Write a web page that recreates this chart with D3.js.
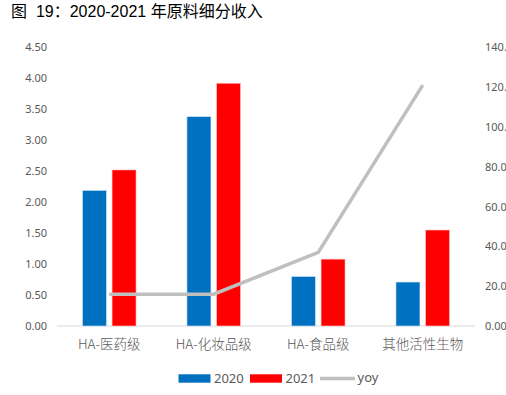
<!DOCTYPE html>
<html>
<head>
<meta charset="utf-8">
<script src="https://d3js.org/d3.v7.min.js"></script>
<style>
body { margin: 0; background: #fff; }
.tick text { fill: #595959; font-family: "Noto Sans", "Noto Sans CJK SC", sans-serif; font-size: 11px; }
.title { font-family: "Liberation Sans", "Noto Sans CJK SC", sans-serif; font-size: 16px; fill: #000; }
.xlab { font-family: "Noto Sans CJK SC", sans-serif; font-size: 13.5px; font-weight: 300; fill: #595959; }
.leg { font-family: "Noto Sans", sans-serif; font-size: 13px; fill: #595959; }
</style>
</head>
<body>
<svg id="chart" width="506" height="395"></svg>
<script>
// data
var categories = ["HA-医药级", "HA-化妆品级", "HA-食品级", "其他活性生物"];
var rev2020 = [2.19, 3.38, 0.80, 0.71];
var rev2021 = [2.52, 3.92, 1.08, 1.55];
var yoy = [16, 16, 37, 121];
var leftTicks = [0, 0.5, 1, 1.5, 2, 2.5, 3, 3.5, 4, 4.5];
var rightTicks = [0, 20, 40, 60, 80, 100, 120, 140];

var svg = d3.select("#chart");
var mLeft = 57, mRight = 475, mTop = 47.3, mBottom = 326;

var x = d3.scaleBand().domain(categories).range([mLeft, mRight]);
var yL = d3.scaleLinear().domain([0, 4.5]).range([mBottom, mTop]);
var yR = d3.scaleLinear().domain([0, 140]).range([mBottom, mTop]);

svg.append("text").attr("class", "title")
  .attr("x", 11).attr("y", 16.5)
  .attr("xml:space", "preserve")
  .text("图  19：2020-2021 年原料细分收入");

// left axis, no line
var gl = svg.append("g").attr("transform", "translate(" + mLeft + ",0)")
  .call(d3.axisLeft(yL).tickValues(leftTicks).tickFormat(d3.format(".2f")).tickSize(0).tickPadding(10));
gl.select(".domain").remove();

var gr = svg.append("g").attr("transform", "translate(" + mRight + ",0)")
  .call(d3.axisRight(yR).tickValues(rightTicks).tickFormat(d3.format(".2f")).tickSize(0).tickPadding(10));
gr.select(".domain").remove();

// baseline
svg.append("line")
  .attr("x1", mLeft).attr("x2", mRight)
  .attr("y1", yL(0)).attr("y2", yL(0))
  .attr("stroke", "#d9d9d9").attr("stroke-width", 1);

var barW = 24, gap = 5.6;

svg.selectAll(".b20").data(rev2020).enter().append("rect")
  .attr("x", function(d, i) { return x(categories[i]) + x.bandwidth() / 2 - gap / 2 - barW; })
  .attr("y", function(d) { return yL(d); })
  .attr("width", barW)
  .attr("height", function(d) { return yL(0) - yL(d); })
  .attr("fill", "#0070c0")
  .attr("stroke", "#d9e6f5").attr("stroke-width", 0.6);

svg.selectAll(".b21").data(rev2021).enter().append("rect")
  .attr("x", function(d, i) { return x(categories[i]) + x.bandwidth() / 2 + gap / 2; })
  .attr("y", function(d) { return yL(d); })
  .attr("width", barW)
  .attr("height", function(d) { return yL(0) - yL(d); })
  .attr("fill", "#ff0000")
  .attr("stroke", "#ffd0d0").attr("stroke-width", 0.6);

var line = d3.line()
  .x(function(d, i) { return x(categories[i]) + x.bandwidth() / 2; })
  .y(function(d) { return yR(d); });

svg.append("path").datum(yoy)
  .attr("d", line)
  .attr("fill", "none")
  .attr("stroke", "#bfbfbf")
  .attr("stroke-width", 3.5);

// category labels
svg.selectAll(".xlab").data(categories).enter().append("text")
  .attr("class", "xlab")
  .attr("x", function(d) { return x(d) + x.bandwidth() / 2; })
  .attr("y", 349)
  .attr("text-anchor", "middle")
  .text(function(d) { return d; });

// legend
var lg = svg.append("g");
lg.append("rect").attr("x", 178.5).attr("y", 374.3).attr("width", 32).attr("height", 8.4).attr("fill", "#0070c0");
lg.append("text").attr("class", "leg").attr("x", 214).attr("y", 383).text("2020");
lg.append("rect").attr("x", 250).attr("y", 374.3).attr("width", 32).attr("height", 8.4).attr("fill", "#ff0000");
lg.append("text").attr("class", "leg").attr("x", 285.5).attr("y", 383).text("2021");
lg.append("line").attr("x1", 320).attr("x2", 355).attr("y1", 378.5).attr("y2", 378.5)
  .attr("stroke", "#bfbfbf").attr("stroke-width", 3.5);
lg.append("text").attr("class", "leg").attr("x", 357.5).attr("y", 382).text("yoy");
</script>
</body>
</html>
